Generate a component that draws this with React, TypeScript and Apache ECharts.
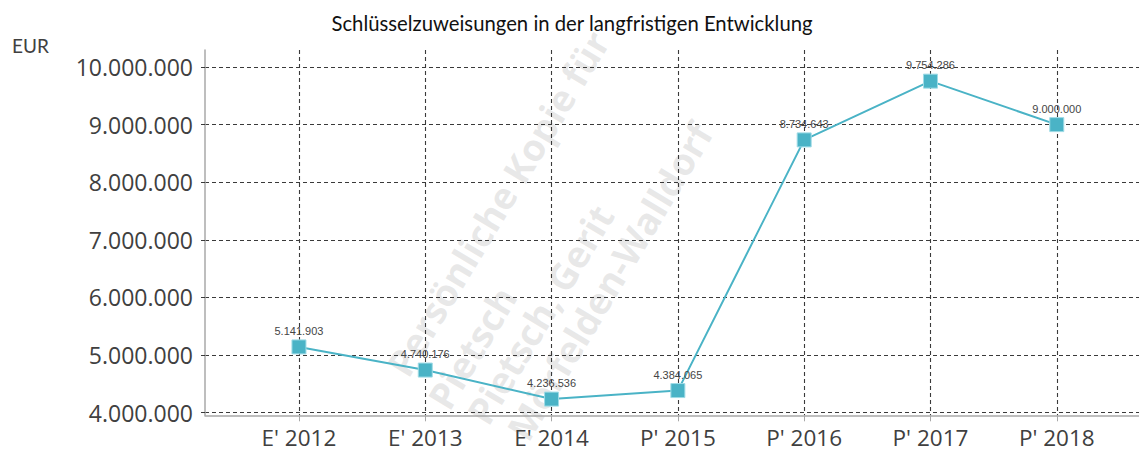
import React, { useEffect, useRef } from "react";
import * as echarts from "echarts";

const categories = ["E' 2012", "E' 2013", "E' 2014", "P' 2015", "P' 2016", "P' 2017", "P' 2018"];
const values = [5141903, 4740176, 4236536, 4384065, 8734643, 9754286, 9000000];
const yTicks = [4000000, 5000000, 6000000, 7000000, 8000000, 9000000, 10000000];
const titleText = "Schlüsselzuweisungen in der langfristigen Entwicklung";
const unitText = "EUR";
const watermarkLines = ["Persönliche Kopie für", "Pietsch", "Pietsch, Gerit", "Mörfelden-Walldorf"];

const fmt = (v: number) => Math.round(v).toString().replace(/\B(?=(\d{3})+(?!\d))/g, ".");

export default function App() {
  const ref = useRef<HTMLDivElement>(null);
  useEffect(() => {
    document.body.style.margin = "0";
    const chart = echarts.init(ref.current!, null, { renderer: "svg" });
    const xIdx = categories.map((_, i) => i);
    const gridColor = "#3a3a3a";
    const wmStarts = [
      [396, 372],
      [437, 405],
      [476, 420],
      [516, 436],
    ];
    const rot = (59 * Math.PI) / 180;
    chart.setOption({
      animation: false,
      backgroundColor: "#ffffff",
      title: {
        text: titleText,
        left: 567,
        textAlign: "center",
        top: 8,
        textStyle: { fontFamily: "Lato", fontSize: 20.3, fontWeight: "normal", color: "#111" },
      },
      graphic: [
        {
          type: "text",
          left: 12,
          top: 36,
          style: { text: unitText, fontFamily: "Lato", fontSize: 19, fill: "#404040" },
        },
        ...watermarkLines.map((t, i) => ({
          type: "text",
          x: wmStarts[i][0],
          y: wmStarts[i][1],
          rotation: rot,
          silent: true,
          z: -10,
          style: {
            text: t,
            fontFamily: "Open Sans",
            fontWeight: "bold",
            fontSize: 37,
            fill: "rgba(200,200,200,0.42)",
            textAlign: "left",
            textVerticalAlign: "middle",
          },
        })),
      ],
      grid: { left: 205, right: 0, top: 50, bottom: 38.7 },
      xAxis: {
        type: "value",
        min: -0.744,
        max: 6.651,
        axisLine: { show: true, onZero: false, lineStyle: { color: "#a8a8a8", width: 1.5 } },
        axisTick: { show: true, customValues: xIdx, length: 6, lineStyle: { color: "#a8a8a8" } },
        axisLabel: {
          customValues: xIdx,
          formatter: (v: number) => categories[Math.round(v)],
          fontFamily: "Open Sans",
          fontSize: 22.5,
          color: "#404040",
          margin: 11,
        },
        splitLine: { show: true, lineStyle: { color: gridColor, type: [4, 3], width: 1.1 } },
      },
      yAxis: {
        type: "value",
        min: 3955000,
        max: 10295000,
        axisLine: { show: true, onZero: false, lineStyle: { color: "#a8a8a8", width: 1.5 } },
        axisTick: { show: true, customValues: yTicks, length: 5, lineStyle: { color: gridColor, type: [4, 3] } },
        axisLabel: {
          customValues: yTicks,
          formatter: (v: number) => fmt(v),
          fontFamily: "Open Sans",
          fontSize: 23,
          color: "#404040",
          margin: 12,
        },
        splitLine: { show: true, lineStyle: { color: gridColor, type: [4, 3], width: 1.1 } },
      },
      series: [
        {
          type: "line",
          data: values.map((v, i) => [i, v]),
          symbol: "rect",
          symbolSize: 14,
          lineStyle: { color: "#4ab3c6", width: 2 },
          itemStyle: { color: "#4ab3c6", borderColor: "#9fdbe6", borderWidth: 1 },
          label: {
            show: true,
            position: "top",
            distance: 3,
            formatter: (p: any) => fmt(p.value[1]),
            fontFamily: "Liberation Sans",
            fontSize: 11,
            color: "#454545",
          },
          z: 5,
        },
      ],
    });
    return () => chart.dispose();
  }, []);
  return <div ref={ref} style={{ width: 1139, height: 454 }} />;
}
